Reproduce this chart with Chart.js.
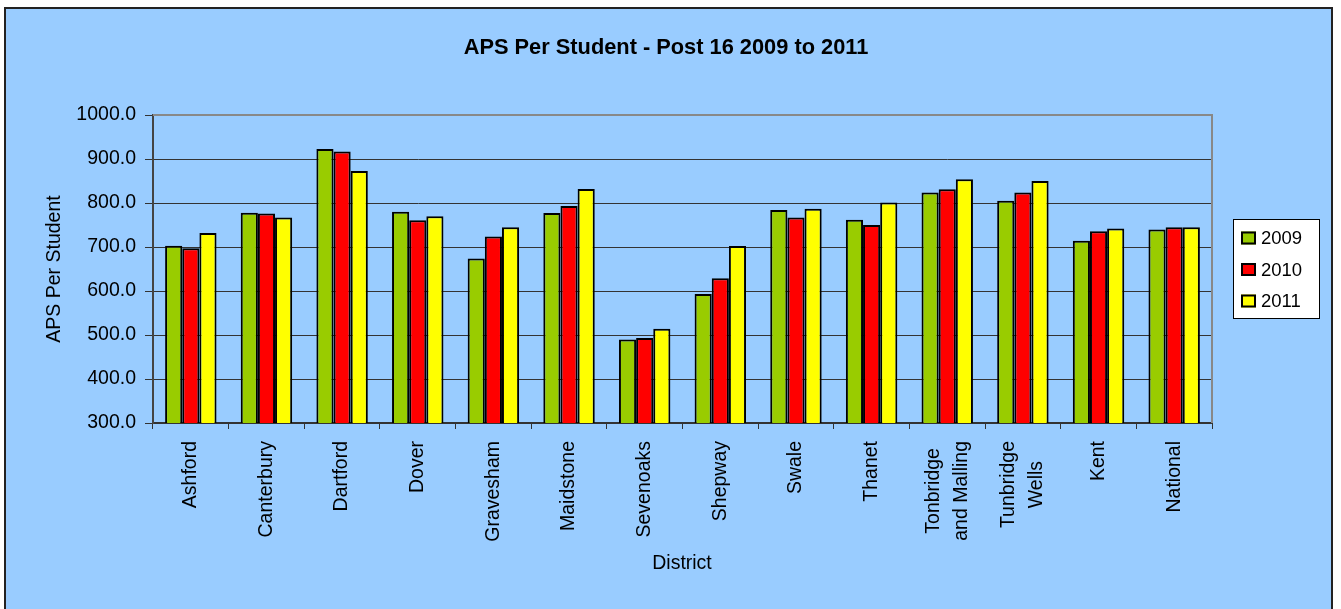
<!DOCTYPE html>
<html><head><meta charset="utf-8">
<script src="https://cdn.jsdelivr.net/npm/chart.js@4.4.0/dist/chart.umd.min.js"></script>
<style>
html,body{margin:0;padding:0;background:#fff;width:1341px;height:609px;overflow:hidden}
#frame{position:absolute;left:4px;top:7px;width:1329px;height:620px;background:#99CCFF;border:2px solid #222;box-sizing:border-box}
#c{position:absolute;left:0;top:0}
</style></head><body>
<div id="frame"></div>
<canvas id="c" width="1341" height="609"></canvas>
<script>
const categories = ['Ashford','Canterbury','Dartford','Dover','Gravesham','Maidstone','Sevenoaks','Shepway','Swale','Thanet',['Tonbridge','and Malling'],['Tunbridge','Wells'],'Kent','National'];
const values2009 = [703,778,923,780,674,777,490,593,784,762,824,805,714,740];
const values2010 = [697,776,917,761,724,793,493,629,767,750,831,824,736,745];
const values2011 = [732,767,873,770,745,832,514,702,787,801,854,850,742,745];
const seriesNames = ['2009','2010','2011'];
const seriesColors = ['#99CC00','#FF0000','#FFFF00'];
const yMin = 300, yMax = 1000, yStep = 100;
const chartTitle = 'APS Per Student - Post 16 2009 to 2011';
const yTitle = 'APS Per Student';
const xTitle = 'District';

const FONT = "'Liberation Sans', Arial, sans-serif";

const decorPlugin = {
  id: 'decor',
  afterDraw(chart) {
    const ctx = chart.ctx;
    const a = chart.chartArea;
    ctx.save();
    // plot area top/right border
    ctx.strokeStyle = '#888888';
    ctx.lineWidth = 2;
    ctx.beginPath();
    ctx.moveTo(a.left, a.top);
    ctx.lineTo(a.right, a.top);
    ctx.lineTo(a.right, a.bottom);
    ctx.stroke();
    // category labels, through the x scale
    const xs = chart.scales.x;
    ctx.fillStyle = '#000';
    ctx.font = "19.5px " + FONT;
    ctx.textBaseline = 'middle';
    ctx.textAlign = 'center';
    chart.data.labels.forEach((lab, i) => {
      const lines = Array.isArray(lab) ? lab : [lab];
      const cx = xs.getPixelForTick(i);
      const maxW = Math.max(...lines.map(l => ctx.measureText(l).width));
      const cy = a.bottom + 18 + maxW / 2;
      const lh = 28;
      lines.forEach((l, j) => {
        const px = cx + (j - (lines.length - 1) / 2) * lh;
        ctx.save();
        ctx.translate(px, cy);
        ctx.rotate(-Math.PI / 2);
        ctx.fillText(l, 0, 0);
        ctx.restore();
      });
    });
    // titles
    ctx.textAlign = 'center';
    ctx.textBaseline = 'middle';
    ctx.font = "bold 21.8px " + FONT;
    ctx.fillText(chartTitle, 666, 48);
    ctx.font = "19.5px " + FONT;
    ctx.fillText(xTitle, 682, 564);
    ctx.save();
    ctx.translate(55, 269);
    ctx.rotate(-Math.PI/2);
    ctx.fillText(yTitle, 0, 0);
    ctx.restore();
    // legend
    const lx = 1233, ly = 219, lw = 86, lh = 99;
    ctx.fillStyle = '#FFFFFF';
    ctx.fillRect(lx, ly, lw, lh);
    ctx.strokeStyle = '#000';
    ctx.lineWidth = 1;
    ctx.strokeRect(lx + 0.5, ly + 0.5, lw, lh);
    ctx.font = "18.5px " + FONT;
    ctx.textAlign = 'left';
    chart.data.datasets.forEach((ds, i) => {
      const cy = 238 + i * 31.5;
      ctx.fillStyle = ds.backgroundColor;
      ctx.fillRect(1241, cy - 6.5, 15, 13);
      ctx.strokeStyle = '#000';
      ctx.lineWidth = 2;
      ctx.strokeRect(1242, cy - 5.5, 13, 11);
      ctx.fillStyle = '#000';
      ctx.fillText(ds.label, 1261, cy + 1);
    });
    ctx.restore();
  }
};

new Chart(document.getElementById('c'), {
  type: 'bar',
  data: {
    labels: categories,
    datasets: [
      {label: seriesNames[0], data: values2009, backgroundColor: seriesColors[0]},
      {label: seriesNames[1], data: values2010, backgroundColor: seriesColors[1]},
      {label: seriesNames[2], data: values2011, backgroundColor: seriesColors[2]}
    ].map(d => Object.assign(d, {borderColor: '#000', borderWidth: 2, borderSkipped: false}))
  },
  options: {
    responsive: false,
    devicePixelRatio: 1,
    animation: false,
    layout: {padding: {top: 115, right: 129, left: 0, bottom: 0}},
    datasets: {bar: {categoryPercentage: 0.68, barPercentage: 1.0}},
    plugins: {legend: {display: false}, title: {display: false}, tooltip: {enabled: false}},
    scales: {
      x: {
        grid: {display: true, drawOnChartArea: false, drawTicks: true, tickLength: 6, color: '#333', offset: true},
        border: {display: true, color: '#333', width: 2},
        ticks: {display: false, autoSkip: false},
        afterFit(s) { s.height = 186; }
      },
      y: {
        min: yMin, max: yMax,
        grid: {color: '#333', lineWidth: 1, drawTicks: true, tickLength: 8, tickColor: '#333'},
        border: {display: true, color: '#444', width: 2},
        ticks: {
          stepSize: yStep, color: '#000', padding: 9,
          font: {family: FONT, size: 19.5},
          callback: v => Number(v).toFixed(1)
        },
        afterFit(s) { s.width = 153; }
      }
    }
  },
  plugins: [decorPlugin]
});
</script>
</body></html>
